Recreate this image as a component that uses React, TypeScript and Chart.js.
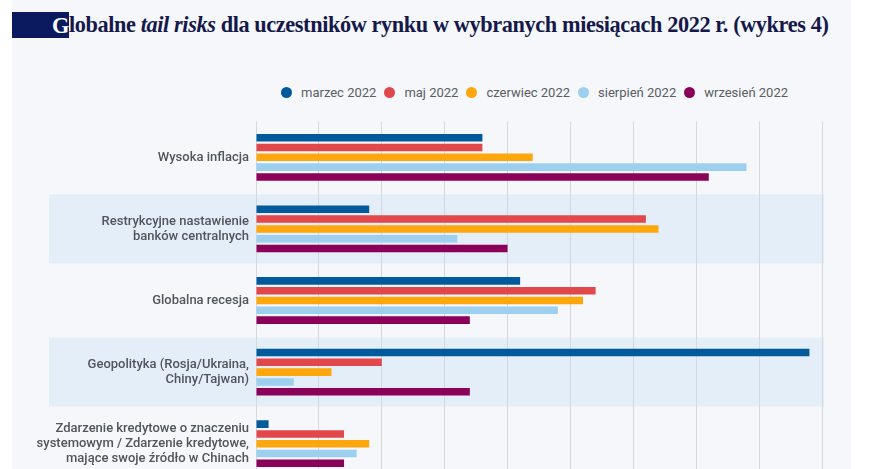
import React, { useEffect, useRef } from "react";
import { Chart, registerables } from "chart.js";

Chart.register(...registerables);

const categories: string[][] = [
  ["Wysoka inflacja"],
  ["Restrykcyjne nastawienie", "banków centralnych"],
  ["Globalna recesja"],
  ["Geopolityka (Rosja/Ukraina,", "Chiny/Tajwan)"],
  ["Zdarzenie kredytowe o znaczeniu", "systemowym / Zdarzenie kredytowe,", "mające swoje źródło w Chinach"],
];

const seriesNames = ["marzec 2022", "maj 2022", "czerwiec 2022", "sierpień 2022", "wrzesień 2022"];
const marzec = [18, 9, 21, 44, 1];
const maj = [18, 31, 27, 10, 7];
const czerwiec = [22, 32, 26, 6, 9];
const sierpien = [39, 16, 24, 3, 8];
const wrzesien = [36, 20, 17, 17, 7];
const xMin = 0;
const xMax = 45;
const xStep = 5;
const shadedCategories = [1, 3];

const colors = ["#005a9c", "#e2474c", "#fda70c", "#9dd0ef", "#8b0059"];

const bandPlugin = {
  id: "bands",
  beforeDraw(chart: any) {
    const { ctx } = chart;
    const y = chart.scales.y;
    ctx.save();
    ctx.fillStyle = "#e4eef8";
    shadedCategories.forEach((i) => {
      const c = y.getPixelForValue(i);
      ctx.fillRect(49, c - 34.5, 824 - 49, 69);
    });
    ctx.restore();
  },
};

export default function App() {
  const ref = useRef<HTMLCanvasElement | null>(null);
  useEffect(() => {
    if (!ref.current) return;
    const data = [marzec, maj, czerwiec, sierpien, wrzesien];
    const chart = new Chart(ref.current, {
      type: "bar",
      data: {
        labels: categories,
        datasets: data.map((d, i) => ({
          label: seriesNames[i],
          data: d,
          backgroundColor: colors[i],
          borderWidth: 0,
          barPercentage: 0.77,
          categoryPercentage: 0.685,
        })),
      },
      options: {
        indexAxis: "y",
        animation: false,
        responsive: false,
        maintainAspectRatio: false,
        layout: { padding: { top: 121.5, right: 68, bottom: 0, left: 0 } },
        plugins: {
          legend: { display: false },
          tooltip: { enabled: false },
          title: { display: false },
        },
        scales: {
          x: {
            min: xMin,
            max: xMax,
            ticks: { display: false, stepSize: xStep },
            grid: { color: "#d3d8de", drawTicks: false, lineWidth: 1 },
            border: { display: false },
            afterFit: (scale: any) => {
              scale.height = 0;
            },
          },
          y: {
            grid: { display: false, drawTicks: false },
            border: { display: false },
            ticks: {
              color: "#51555c",
              padding: 7,
              font: { family: "Roboto", size: 13, weight: "500", lineHeight: 1.15 },
            },
            afterFit: (scale: any) => {
              scale.width = 256;
            },
          },
        },
      },
      plugins: [bandPlugin],
    });
    return () => chart.destroy();
  }, []);

  return (
    <div
      style={{
        position: "fixed",
        left: 0,
        top: 0,
        width: 890,
        height: 469,
        overflow: "hidden",
        background: "#ffffff",
      }}
    >
      <div
        style={{
          position: "absolute",
          left: 12,
          top: 0,
          width: 839,
          height: 469,
          background: "#f5f7fa",
        }}
      />
      <div
        style={{
          position: "absolute",
          left: 12,
          top: 12,
          height: 26,
          display: "flex",
          alignItems: "center",
          fontFamily: "'Liberation Serif', serif",
          fontWeight: 700,
          fontSize: 22.3,
          color: "#14194a",
          whiteSpace: "nowrap",
          letterSpacing: -0.4,
        }}
      >
        <span
          style={{
            display: "inline-block",
            width: 57,
            height: 26,
            background: "#0b1a5e",
            color: "#ffffff",
            textAlign: "right",
            lineHeight: "28px",
          }}
        >
          G
        </span>
        <span style={{ lineHeight: "28px" }}>
          lobalne <i>tail risks</i> dla uczestników rynku w wybranych miesiącach 2022 r. (wykres 4)
        </span>
      </div>
      <div
        style={{
          position: "absolute",
          left: 281,
          top: 83,
          height: 18,
          display: "flex",
          alignItems: "center",
          fontFamily: "Roboto, sans-serif",
          fontSize: 13,
          color: "#595d64",
          whiteSpace: "nowrap",
        }}
      >
        {seriesNames.map((n, i) => (
          <div key={n} style={{ display: "flex", alignItems: "center", marginRight: 8 }}>
            <span
              style={{
                display: "inline-block",
                width: 11,
                height: 11,
                borderRadius: "50%",
                background: colors[i],
                marginRight: 9,
              }}
            />
            <span>{n}</span>
          </div>
        ))}
      </div>
      <canvas
        ref={ref}
        width={890}
        height={494}
        style={{ position: "absolute", left: 0, top: 0, width: 890, height: 494 }}
      />
    </div>
  );
}
